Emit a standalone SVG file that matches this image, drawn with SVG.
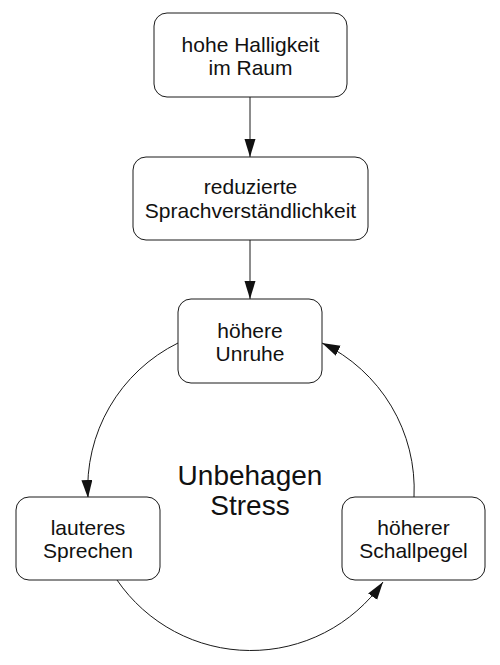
<svg xmlns="http://www.w3.org/2000/svg" width="500" height="665" viewBox="0 0 500 665">
<defs>
<style>
.box{fill:#fff;stroke:#1a1a1a;stroke-width:1}
.lbl{font-family:"Liberation Sans",Arial,Helvetica,sans-serif;font-size:21px;fill:#111;text-anchor:middle}
.big{font-family:"Liberation Sans",Arial,Helvetica,sans-serif;font-size:28px;fill:#111;text-anchor:middle}
.edge{fill:none;stroke:#1a1a1a;stroke-width:1;marker-end:url(#ah)}
</style>
<marker id="ah" markerUnits="userSpaceOnUse" markerWidth="19" markerHeight="12" refX="18" refY="5.5" orient="auto">
<path d="M0,0 L18,5.5 L0,11 z" fill="#111"/>
</marker>
</defs>
<rect width="500" height="665" fill="#fff"/>
<g id="connectors">
<line class="edge" x1="250" y1="97" x2="250" y2="157"/>
<line class="edge" x1="250" y1="240" x2="250" y2="299"/>
<path class="edge" d="M178,343 A162,162 0 0 0 88,498"/>
<path class="edge" d="M117,580 A162,162 0 0 0 383,582"/>
<path class="edge" d="M414,497 A162,162 0 0 0 322,343"/>
</g>
<g id="n1">
<rect class="box" x="154" y="13" width="193" height="84" rx="13"/>
<text class="lbl" x="250.5" y="52">hohe Halligkeit</text>
<text class="lbl" x="250.5" y="75">im Raum</text>
</g>
<g id="n2">
<rect class="box" x="133" y="157" width="235" height="83" rx="13"/>
<text class="lbl" x="250.5" y="194">reduzierte</text>
<text class="lbl" x="250.5" y="218">Sprachverständlichkeit</text>
</g>
<g id="n3">
<rect class="box" x="178" y="299" width="144" height="84" rx="13"/>
<text class="lbl" x="250" y="338">höhere</text>
<text class="lbl" x="250" y="361">Unruhe</text>
</g>
<g id="n4">
<rect class="box" x="16" y="497" width="144" height="83" rx="13"/>
<text class="lbl" x="88" y="535">lauteres</text>
<text class="lbl" x="88" y="558">Sprechen</text>
</g>
<g id="n5">
<rect class="box" x="342" y="497" width="143" height="83" rx="13"/>
<text class="lbl" x="413.5" y="535">höherer</text>
<text class="lbl" x="413.5" y="558">Schallpegel</text>
</g>
<g id="center">
<text class="big" x="250" y="485">Unbehagen</text>
<text class="big" x="250" y="515">Stress</text>
</g>
</svg>
